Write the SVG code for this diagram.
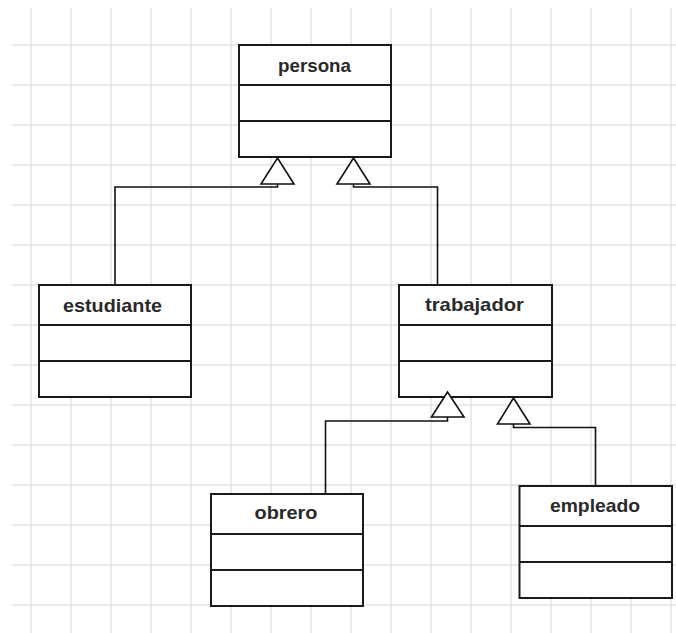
<svg xmlns="http://www.w3.org/2000/svg" width="676" height="633" viewBox="0 0 676 633">
  <style>
    .grid line { stroke: #e2e2e2; stroke-width: 1.5; }
    .box { fill: #ffffff; stroke: #1a1a1a; stroke-width: 2; }
    .sep { stroke: #1a1a1a; stroke-width: 2; }
    .name { font-family: "Liberation Sans", Arial, sans-serif; font-weight: bold; font-size: 19px; fill: #2a2a2a; text-anchor: middle; }
    .wire { fill: none; stroke: #111111; stroke-width: 1.6; }
    .tri { fill: #ffffff; stroke: #111111; stroke-width: 1.6; stroke-linejoin: miter; }
  </style>

  <rect x="0" y="0" width="676" height="633" fill="#ffffff"/>

  <!-- background grid, 40px pitch -->
  <g class="grid">
    <line x1="31" y1="8" x2="31" y2="633"/>
    <line x1="71" y1="8" x2="71" y2="633"/>
    <line x1="111" y1="8" x2="111" y2="633"/>
    <line x1="151" y1="8" x2="151" y2="633"/>
    <line x1="191" y1="8" x2="191" y2="633"/>
    <line x1="231" y1="8" x2="231" y2="633"/>
    <line x1="271" y1="8" x2="271" y2="633"/>
    <line x1="311" y1="8" x2="311" y2="633"/>
    <line x1="351" y1="8" x2="351" y2="633"/>
    <line x1="391" y1="8" x2="391" y2="633"/>
    <line x1="431" y1="8" x2="431" y2="633"/>
    <line x1="471" y1="8" x2="471" y2="633"/>
    <line x1="511" y1="8" x2="511" y2="633"/>
    <line x1="551" y1="8" x2="551" y2="633"/>
    <line x1="591" y1="8" x2="591" y2="633"/>
    <line x1="631" y1="8" x2="631" y2="633"/>
    <line x1="671" y1="8" x2="671" y2="633"/>
    <line x1="12" y1="45" x2="676" y2="45"/>
    <line x1="12" y1="85" x2="676" y2="85"/>
    <line x1="12" y1="125" x2="676" y2="125"/>
    <line x1="12" y1="165" x2="676" y2="165"/>
    <line x1="12" y1="205" x2="676" y2="205"/>
    <line x1="12" y1="245" x2="676" y2="245"/>
    <line x1="12" y1="285" x2="676" y2="285"/>
    <line x1="12" y1="325" x2="676" y2="325"/>
    <line x1="12" y1="365" x2="676" y2="365"/>
    <line x1="12" y1="405" x2="676" y2="405"/>
    <line x1="12" y1="445" x2="676" y2="445"/>
    <line x1="12" y1="485" x2="676" y2="485"/>
    <line x1="12" y1="525" x2="676" y2="525"/>
    <line x1="12" y1="565" x2="676" y2="565"/>
    <line x1="12" y1="605" x2="676" y2="605"/>
  </g>

  <!-- classes -->
  <g id="persona">
    <rect class="box" x="239" y="45" width="152" height="112"/>
    <line class="sep" x1="239" y1="85" x2="391" y2="85"/>
    <line class="sep" x1="239" y1="121" x2="391" y2="121"/>
    <text class="name" x="314.5" y="72" textLength="73" lengthAdjust="spacingAndGlyphs">persona</text>
  </g>

  <g id="estudiante">
    <rect class="box" x="39" y="285" width="152" height="112"/>
    <line class="sep" x1="39" y1="325" x2="191" y2="325"/>
    <line class="sep" x1="39" y1="361" x2="191" y2="361"/>
    <text class="name" x="112.5" y="312" textLength="99" lengthAdjust="spacingAndGlyphs">estudiante</text>
  </g>

  <g id="trabajador">
    <rect class="box" x="399" y="285" width="153" height="112"/>
    <line class="sep" x1="399" y1="325" x2="552" y2="325"/>
    <line class="sep" x1="399" y1="361" x2="552" y2="361"/>
    <text class="name" x="474.5" y="311" textLength="99" lengthAdjust="spacingAndGlyphs">trabajador</text>
  </g>

  <g id="obrero">
    <rect class="box" x="211" y="494" width="152" height="112"/>
    <line class="sep" x1="211" y1="534" x2="363" y2="534"/>
    <line class="sep" x1="211" y1="570" x2="363" y2="570"/>
    <text class="name" x="286" y="519" textLength="63" lengthAdjust="spacingAndGlyphs">obrero</text>
  </g>

  <g id="empleado">
    <rect class="box" x="519.5" y="486" width="152.5" height="112"/>
    <line class="sep" x1="519.5" y1="526" x2="672" y2="526"/>
    <line class="sep" x1="519.5" y1="562" x2="672" y2="562"/>
    <text class="name" x="595" y="512" textLength="90" lengthAdjust="spacingAndGlyphs">empleado</text>
  </g>

  <!-- generalization connectors with hollow triangle heads -->
  <g id="connectors">
    <polyline class="wire" points="115,285 115,187 277.5,187 277.5,184"/>
    <polygon class="tri" points="277.5,158 294,184 261,184"/>

    <polyline class="wire" points="437.5,285 437.5,187 353.5,187 353.5,184"/>
    <polygon class="tri" points="353.5,158 370,184 337,184"/>

    <polyline class="wire" points="325.5,494 325.5,421 447.5,421 447.5,417"/>
    <polygon class="tri" points="447.5,392 464,417 431.5,417"/>

    <polyline class="wire" points="595.5,486 595.5,427.5 513.5,427.5 513.5,424"/>
    <polygon class="tri" points="513.5,398 530,424 497.5,424"/>
  </g>
</svg>
